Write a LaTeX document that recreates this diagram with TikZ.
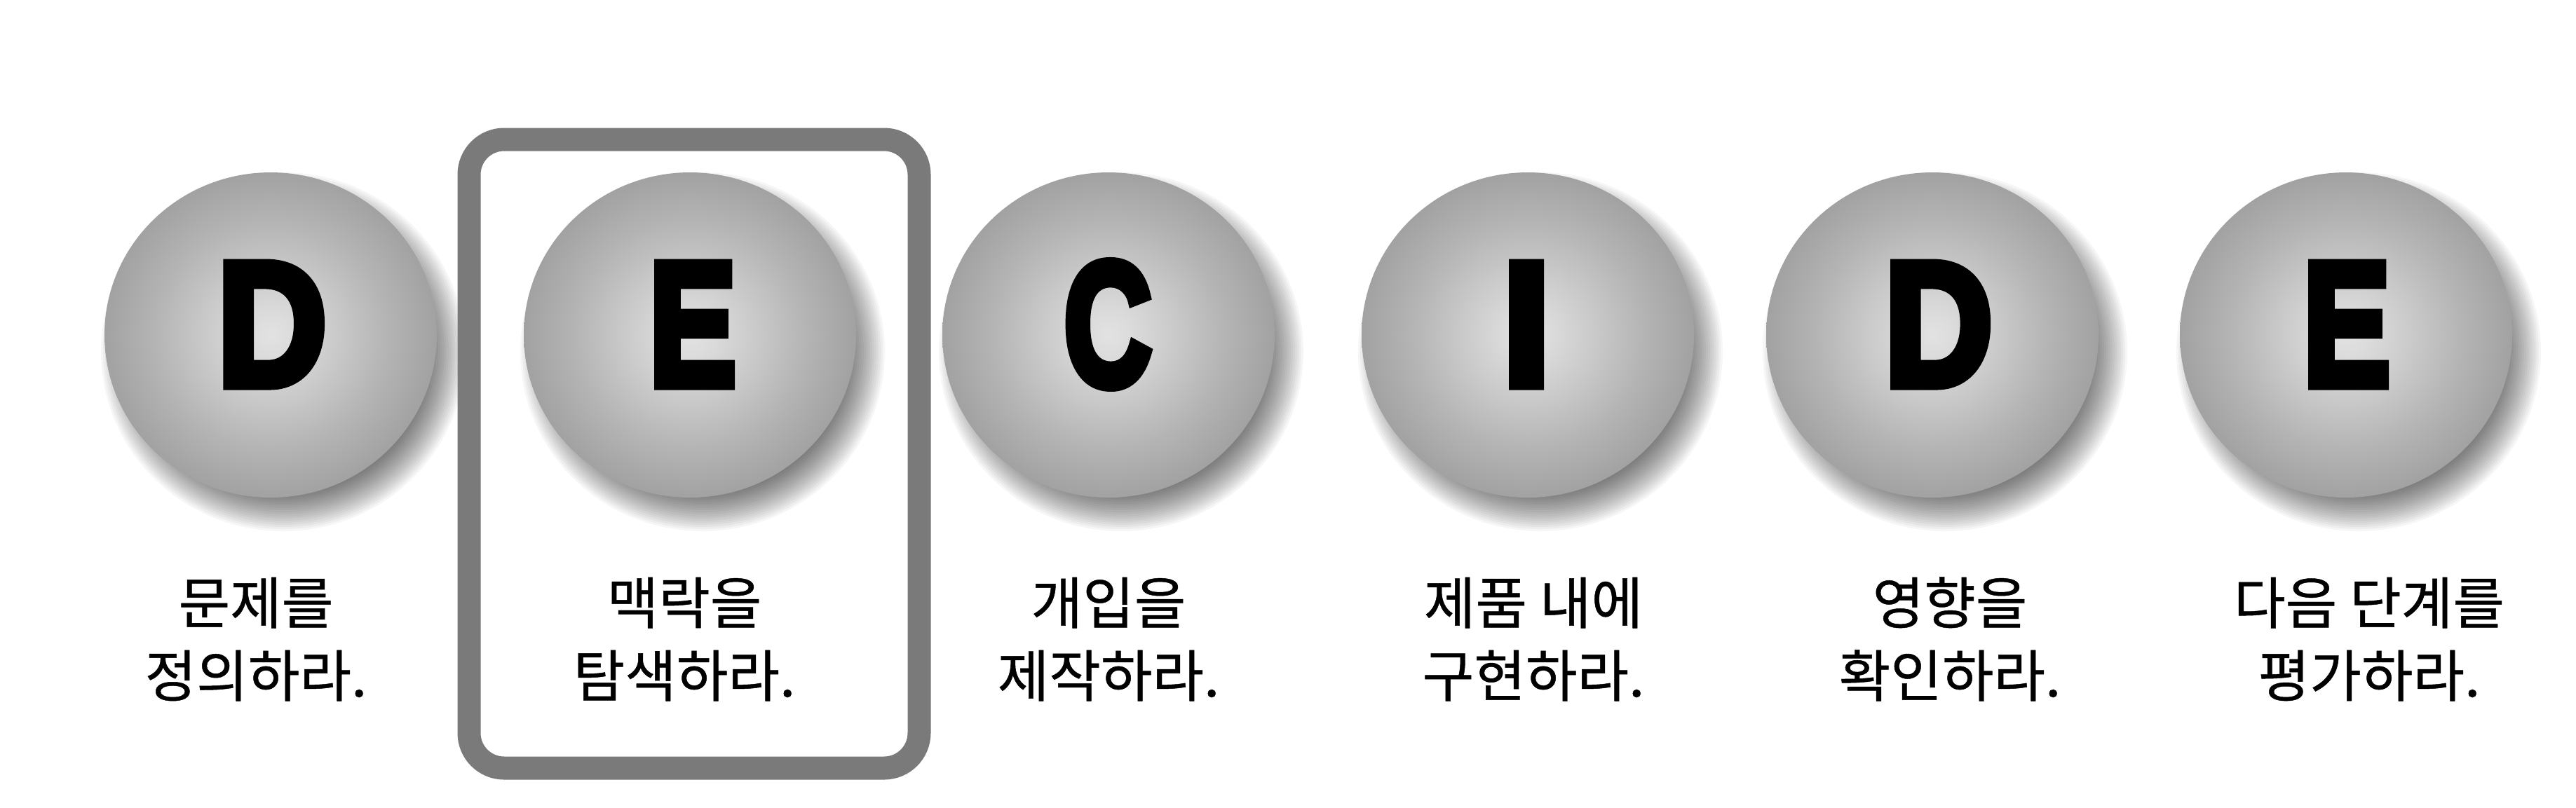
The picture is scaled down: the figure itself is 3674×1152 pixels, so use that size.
\documentclass[tikz,border=0pt]{standalone}
\usepackage{fontspec}
\newfontfamily\krfont[FakeBold=0.6]{Noto Sans CJK KR}
\newfontfamily\bigfont[FakeBold=6]{Liberation Sans Bold}
\definecolor{bs0}{HTML}{E2E2E2}
\definecolor{bs1}{HTML}{DBDBDB}
\definecolor{bs2}{HTML}{C8C8C8}
\definecolor{bs3}{HTML}{B4B4B4}
\definecolor{bs4}{HTML}{A3A3A3}
\definecolor{bs5}{HTML}{979797}
\definecolor{bs6}{HTML}{8C8C8C}
\definecolor{boxgray}{HTML}{7A7A7A}
\pgfdeclareradialshading{ballshade}{\pgfpoint{0bp}{0bp}}{color(0bp)=(bs0); color(3.5bp)=(bs1); color(10.5bp)=(bs2); color(17.5bp)=(bs3); color(24.5bp)=(bs4); color(30bp)=(bs5); color(35bp)=(bs6); color(72bp)=(bs6)}
\tikzset{
  ball/.style={shading=ballshade},
  bigletter/.style={inner sep=0pt, anchor=base, font=\bigfont\fontsize{25pt}{27pt}\selectfont},
  steplabel/.style={inner sep=0pt, anchor=base, font=\krfont\fontsize{8pt}{10pt}\selectfont},
  framebox/.style={draw=boxgray, line width=3.3pt, rounded corners=5pt}
}
\begin{document}
\begin{tikzpicture}[x=0.1pt, y=-0.1pt]
\useasboundingbox (0,0) rectangle (3674,1152);
\fill[white] (0,0) rectangle (3674,1152);
% soft drop shadows
\foreach \cx in {386,984,1581,2179,2756,3346}{
  \foreach \k in {0,...,20}{
    \fill[black, opacity=0.035] (\cx+18,502) ellipse [x radius={200+3*\k}, y radius={196+3*\k}];
  }
}
% balls
\foreach \cx/\nm in {386/b1,984/b2,1581/b3,2179/b4,2756/b5,3346/b6}{
  \shade[ball] (\cx,478) ellipse [x radius=237, y radius=232];
  \coordinate (\nm) at (\cx,478);
}
% letters
\node[bigletter] (l1) at (388,549) {\scalebox{0.86}[1]{D}};
\node[bigletter] (l2) at (988,549) {\scalebox{0.74}[1]{E}};
\node[bigletter] (l3) at (1580,549) {\scalebox{0.69}[1]{C}};
\node[bigletter] (l4) at (2177,549) {\scalebox{0.98}[1]{I}};
\node[bigletter] (l5) at (2765,549) {\scalebox{0.85}[1]{D}};
\node[bigletter] (l6) at (3347,549) {\scalebox{0.74}[1]{E}};
% highlight frame
\draw[framebox] (669,199) rectangle (1311,1096);
% labels
\node[steplabel] (t1a) at (365,890) {문제를};
\node[steplabel] (t1b) at (365,994) {정의하라.};
\node[steplabel] (t2a) at (976,890) {맥락을};
\node[steplabel] (t2b) at (976,994) {탐색하라.};
\node[steplabel] (t3a) at (1581,890) {개입을};
\node[steplabel] (t3b) at (1581,994) {제작하라.};
\node[steplabel] (t4a) at (2187,890) {제품 내에};
\node[steplabel] (t4b) at (2187,994) {구현하라.};
\node[steplabel] (t5a) at (2781,890) {영향을};
\node[steplabel] (t5b) at (2781,994) {확인하라.};
\node[steplabel] (t6a) at (3379,890) {다음 단계를};
\node[steplabel] (t6b) at (3379,994) {평가하라.};
\end{tikzpicture}
\end{document}
